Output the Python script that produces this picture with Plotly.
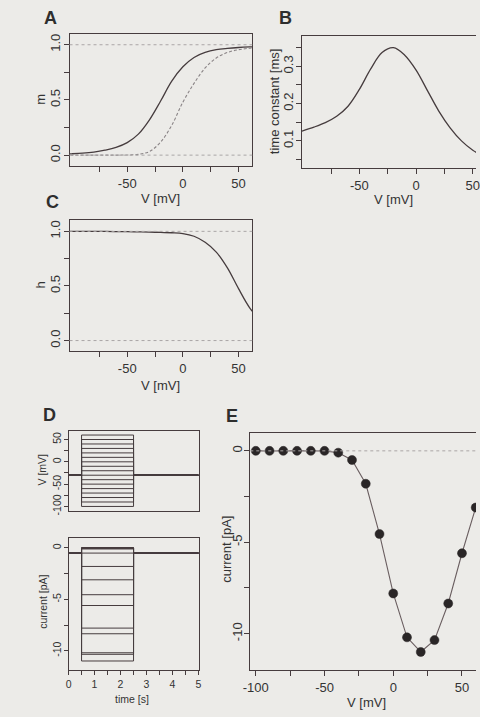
import plotly.graph_objects as go

# ---------------- data ----------------
# membrane potential grid for the steady-state / kinetic curves (mV)
V_GRID = [-110, -100, -90, -80, -70, -60, -50, -40, -30, -20, -10,
          0, 10, 20, 30, 40, 50, 60, 70]
# activation m (solid) and its cube m^3 (dashed)
M_INF = [0.008, 0.012, 0.018, 0.028, 0.045, 0.07, 0.113, 0.19, 0.32, 0.49, 0.67,
         0.80, 0.885, 0.93, 0.955, 0.967, 0.975, 0.98, 0.983]
M_CUBED = [0.0, 0.0, 0.0, 0.0, 0.0001, 0.0003, 0.0015, 0.007, 0.033, 0.118, 0.27,
           0.48, 0.65, 0.79, 0.88, 0.93, 0.955, 0.968, 0.975]
# activation time constant (ms)
TAU_M = [0.118, 0.127, 0.137, 0.149, 0.166, 0.193, 0.238, 0.293, 0.337, 0.350, 0.330,
         0.290, 0.235, 0.180, 0.135, 0.100, 0.075, 0.058, 0.046]
# inactivation h
H_INF = [1.0, 1.0, 1.0, 1.0, 0.999, 0.998, 0.997, 0.995, 0.993, 0.99, 0.987,
         0.98, 0.955, 0.90, 0.81, 0.665, 0.475, 0.30, 0.18]

# voltage-clamp protocol: step potentials (mV) and steady currents (pA)
STEP_V = [-100, -90, -80, -70, -60, -50, -40, -30, -20, -10,
          0, 10, 20, 30, 40, 50, 60]
STEP_I = [0.0, 0.0, 0.0, 0.0, 0.0, 0.0, -0.1, -0.5, -1.8, -4.55,
          -7.8, -10.2, -11.0, -10.35, -8.35, -5.6, -3.1]
HOLD_V = -30          # holding potential (mV)
T_ON, T_OFF, T_END = 0.5, 2.5, 5.0   # step timing (s)

GATE_REF = [0, 1]     # dotted reference levels for gating variables

# ---------------- style ----------------
W, H = 480, 717
BG = "#ecebe8"
INK = "#463c3e"
TXT = "#333333"
FONT = "Liberation Sans, Arial, sans-serif"


def fx(p):
    return p / W


def fy(p):
    return 1 - p / H


fig = go.Figure()

# A: activation curves
fig.add_trace(go.Scatter(x=V_GRID, y=M_INF, mode="lines", line=dict(color=INK, width=1.3, shape="spline"),
                         xaxis="x", yaxis="y"))
fig.add_trace(go.Scatter(x=V_GRID, y=M_CUBED, mode="lines",
                         line=dict(color="#8a8486", width=1.1, dash="3px,2px", shape="spline"),
                         xaxis="x", yaxis="y"))
# B: time constant
fig.add_trace(go.Scatter(x=V_GRID, y=TAU_M, mode="lines", line=dict(color=INK, width=1.3, shape="spline"),
                         xaxis="x2", yaxis="y2"))
# C: inactivation
fig.add_trace(go.Scatter(x=V_GRID, y=H_INF, mode="lines", line=dict(color=INK, width=1.3, shape="spline"),
                         xaxis="x3", yaxis="y3"))

# D: command potentials and resulting currents
i_hold = STEP_I[STEP_V.index(HOLD_V)]
for v, i in zip(STEP_V, STEP_I):
    t = [0, T_ON, T_ON, T_OFF, T_OFF, T_END]
    fig.add_trace(go.Scatter(x=t, y=[HOLD_V, HOLD_V, v, v, HOLD_V, HOLD_V], mode="lines",
                             line=dict(color=INK, width=1), xaxis="x4", yaxis="y4"))
    fig.add_trace(go.Scatter(x=t, y=[i_hold, i_hold, i, i, i_hold, i_hold], mode="lines",
                             line=dict(color=INK, width=1), xaxis="x5", yaxis="y5"))

# E: current-voltage relation
fig.add_trace(go.Scatter(x=STEP_V, y=STEP_I, mode="lines+markers",
                         line=dict(color="#6a5e60", width=1.1),
                         marker=dict(size=9, color="#2a2627", line=dict(color="#2a2627", width=0.5)),
                         xaxis="x6", yaxis="y6"))

# dotted reference levels
ref_shapes = []
for lvl in GATE_REF:
    for ax in ("", "3"):
        ref_shapes.append(dict(type="line", xref=f"x{ax} domain", yref=f"y{ax}",
                               x0=0, x1=1, y0=lvl, y1=lvl,
                               line=dict(color="#aaa6a6", width=1, dash="dot")))
ref_shapes.append(dict(type="line", xref="x6 domain", yref="y6", x0=0, x1=1, y0=0, y1=0,
                       line=dict(color="#aaa6a6", width=1, dash="dot")))


def axis(dom, rng, tickvals, ticktext, size=13, anchor=None, mirror=True, ticklen=5,
         showticks=True, angle=None, overflow=None, standoff=None):
    d = dict(domain=dom, range=rng, showgrid=False, zeroline=False, showline=True,
             linecolor=INK, linewidth=1, mirror=mirror, ticks="outside" if showticks else "",
             ticklen=ticklen, tickcolor=INK, tickwidth=1,
             tickvals=tickvals if showticks else [], ticktext=ticktext if showticks else [],
             tickfont=dict(family=FONT, size=size, color=TXT), anchor=anchor,
             fixedrange=True)
    if angle is not None:
        d["tickangle"] = angle
    if overflow:
        d["ticklabeloverflow"] = overflow
    if standoff is not None:
        d["ticklabelstandoff"] = standoff
    return d


v_ticks = [-75, -50, -25, 0, 25, 50]
v_text = ["", "-50", "", "0", "", "50"]
g_ticks = [0, 0.25, 0.5, 0.75, 1.0]
g_text = ["0.0", "", "0.5", "", "1.0"]

layout = dict(
    width=W, height=H, margin=dict(l=0, r=0, t=0, b=0),
    paper_bgcolor=BG, plot_bgcolor=BG, showlegend=False,
    font=dict(family=FONT, color=TXT),
    # A
    xaxis=axis([fx(64), fx(251)], [-101.8, 62.3], v_ticks, v_text, anchor="y"),
    yaxis=axis([fy(167), fy(34)], [-0.099, 1.099], g_ticks, g_text, anchor="x", angle=-90,
               standoff=-2),
    # B
    xaxis2=axis([fx(302), 1.0], [-100.5, 52.8], v_ticks, v_text, anchor="y2", overflow="allow"),
    yaxis2=axis([fy(169), fy(36)], [0.027, 0.382],
                [0.05, 0.1, 0.15, 0.2, 0.25, 0.3, 0.35], ["", "0.1", "", "0.2", "", "0.3", ""],
                anchor="x2", mirror=False, angle=-90, standoff=-2),
    # C
    xaxis3=axis([fx(64), fx(251)], [-101.8, 62.3], v_ticks, v_text, anchor="y3"),
    yaxis3=axis([fy(353), fy(221)], [-0.096, 1.106], g_ticks, g_text, anchor="x3", angle=-90,
                standoff=-2),
    # D top
    xaxis4=axis([fx(63), fx(196)], [0, 5], [], [], anchor="y4", showticks=False),
    yaxis4=axis([fy(514), fy(433)], [-110.5, 70], [-100, -75, -50, -25, 0, 25, 50],
                ["-100", "", "-50", "", "0", "", "50"], size=10.5, anchor="x4", ticklen=4, angle=-90,
                standoff=-2),
    # D bottom
    xaxis5=axis([fx(63), fx(196)], [0, 5], [0, 0.5, 1, 1.5, 2, 2.5, 3, 3.5, 4, 4.5, 5],
                ["0", "", "1", "", "2", "", "3", "", "4", "", "5"], size=10.5, anchor="y5", ticklen=4),
    yaxis5=axis([fy(674), fy(541)], [-11.9, 0.97], [0, -2.5, -5, -7.5, -10],
                ["0", "", "-5", "", "-10"], size=10.5, anchor="x5", ticklen=4, angle=-90,
                standoff=-2),
    # E
    xaxis6=axis([fx(249), 1.0], [-104, 60.2], [-100, -75, -50, -25, 0, 25, 50],
                ["-100", "", "-50", "", "0", "", "50"], anchor="y6", overflow="allow"),
    yaxis6=axis([fy(674), fy(435)], [-12.0, 1.0], [0, -2.5, -5, -7.5, -10],
                ["0", "", "-5", "", "-10"], anchor="x6", mirror=False, angle=-90, standoff=-3),
    shapes=ref_shapes,
)
fig.update_layout(**layout)
# B and E run off the right edge: keep only the top frame line
for ax in ("xaxis2", "xaxis6"):
    fig.layout[ax].mirror = True

labels = [
    # (text, x px, y px, size, angle, bold)
    ("A", 45, 18, 18, 0, True),
    ("B", 285, 18, 18, 0, True),
    ("C", 47, 203, 18, 0, True),
    ("D", 43, 417, 18, 0, True),
    ("E", 230, 418, 18, 0, True),
    ("m", 34, 100, 13, -90, False),
    ("V [mV]", 157, 200, 13, 0, False),
    ("time constant [ms]", 274, 102, 13, -90, False),
    ("V [mV]", 396, 201, 13, 0, False),
    ("h", 34, 287, 13, -90, False),
    ("V [mV]", 157, 388, 13, 0, False),
    ("V [mV]", 36, 472, 10.5, -90, False),
    ("current [pA]", 36, 605, 10.5, -90, False),
    ("time [s]", 128, 703, 10.5, 0, False),
    ("current [pA]", 225, 552, 13, -90, False),
    ("V [mV]", 368, 706, 13, 0, False),
]
annotations = []
for text, x, y, size, ang, bold in labels:
    annotations.append(dict(
        text=f"<b>{text}</b>" if bold else text, x=fx(x), y=fy(y), xref="paper", yref="paper",
        xanchor="center", yanchor="middle", showarrow=False, textangle=ang,
        font=dict(family=FONT, size=size, color="#2e2e2e" if bold else TXT)))
fig.update_layout(annotations=annotations)

fig.write_html("out.html")
